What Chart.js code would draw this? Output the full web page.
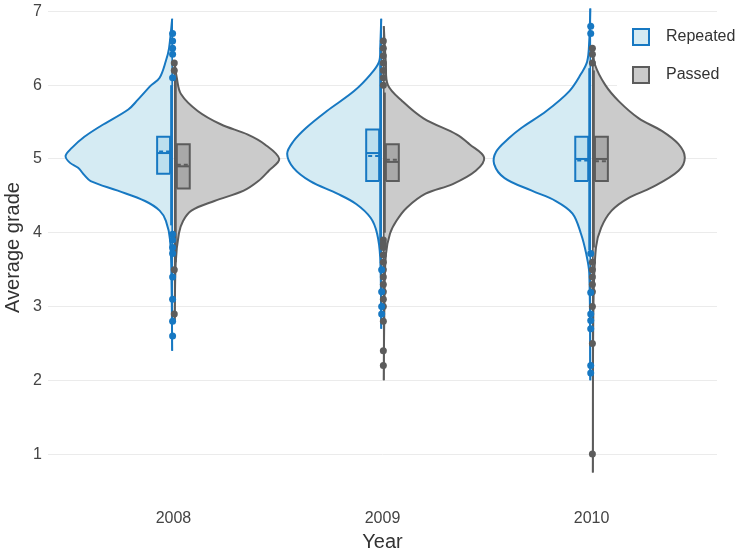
<!DOCTYPE html>
<html>
<head>
<meta charset="utf-8">
<script src="https://cdn.jsdelivr.net/npm/chart.js@4.4.0/dist/chart.umd.min.js"></script>
<style>
  html, body { margin: 0; padding: 0; background: #fff; }
</style>
</head>
<body>
<canvas id="graficoViolino" width="740" height="554"></canvas>
<script>
const years = ['2008', '2009', '2010'];
const yTicks = [1, 2, 3, 4, 5, 6, 7];
const legendLabels = ['Repeated', 'Passed'];

// meia-largura do violino por nota: [nota, largura em unidades de categoria]
const repeatedDensity2008 = [[6.9, 0], [6.5, 0.015], [6.33, 0.03], [6.1, 0.06], [6.0, 0.1], [5.8, 0.165], [5.67, 0.21], [5.45, 0.34], [5.3, 0.42], [5.15, 0.48], [5.04, 0.51], [4.95, 0.49], [4.88, 0.45], [4.78, 0.42], [4.7, 0.39], [4.57, 0.26], [4.43, 0.13], [4.3, 0.06], [4.16, 0.03], [3.9, 0.01], [3.3, 0.003], [2.4, 0]];
const repeatedDensity2009 = [[6.9, 0], [6.5, 0.005], [6.32, 0.01], [6.15, 0.05], [5.92, 0.13], [5.65, 0.26], [5.42, 0.36], [5.24, 0.42], [5.07, 0.45], [4.88, 0.42], [4.7, 0.34], [4.53, 0.21], [4.39, 0.12], [4.2, 0.05], [3.99, 0.02], [3.66, 0.005], [2.7, 0]];
const repeatedDensity2010 = [[7.04, 0], [6.6, 0.005], [6.32, 0.015], [6.15, 0.045], [5.92, 0.1], [5.65, 0.21], [5.42, 0.33], [5.28, 0.39], [5.1, 0.45], [4.93, 0.46], [4.74, 0.41], [4.57, 0.28], [4.43, 0.165], [4.26, 0.085], [3.99, 0.045], [3.72, 0.02], [3.45, 0.005], [2.0, 0]];
const passedDensity2008 = [[6.3, 0], [6.1, 0.01], [5.88, 0.03], [5.65, 0.11], [5.47, 0.22], [5.33, 0.35], [5.2, 0.43], [5.0, 0.5], [4.84, 0.45], [4.7, 0.4], [4.57, 0.33], [4.43, 0.19], [4.3, 0.08], [4.16, 0.04], [3.99, 0.02], [3.6, 0.005], [2.8, 0]];
const passedDensity2009 = [[6.8, 0], [6.3, 0.01], [6.0, 0.02], [5.78, 0.09], [5.55, 0.19], [5.33, 0.35], [5.2, 0.41], [5.02, 0.48], [4.84, 0.44], [4.66, 0.33], [4.53, 0.2], [4.34, 0.11], [4.16, 0.06], [3.99, 0.03], [3.7, 0.01], [3.0, 0.003], [2.0, 0]];
const passedDensity2010 = [[6.5, 0], [6.28, 0.01], [6.0, 0.06], [5.78, 0.125], [5.55, 0.22], [5.38, 0.33], [5.2, 0.41], [5.02, 0.44], [4.84, 0.41], [4.61, 0.28], [4.47, 0.17], [4.3, 0.09], [4.07, 0.04], [3.8, 0.015], [3.0, 0.003], [0.75, 0]];

// estatísticas das caixas
const repeatedQ1 = [4.8, 4.7, 4.7];
const repeatedMedian = [5.08, 5.08, 5.0];
const repeatedQ3 = [5.3, 5.4, 5.3];
const repeatedMean = [5.1, 5.04, 4.98];
const repeatedLow = [4.1, 3.7, 3.76];
const repeatedHigh = [6.0, 6.3, 6.23];
const passedQ1 = [4.6, 4.7, 4.7];
const passedMedian = [4.9, 4.96, 5.0];
const passedQ3 = [5.2, 5.2, 5.3];
const passedMean = [4.92, 4.99, 4.97];
const passedLow = [3.6, 4.0, 3.8];
const passedHigh = [6.1, 5.9, 6.2];

// pontos fora dos bigodes
const repeatedOutliers = [
    [6.7, 6.6, 6.5, 6.42, 6.1, 3.98, 3.9, 3.8, 3.72, 3.4, 3.1, 2.8, 2.6],
    [3.5, 3.2, 3.0, 2.9],
    [6.8, 6.7, 3.72, 3.19, 2.9, 2.81, 2.7, 2.2, 2.1]
];
const passedOutliers = [
    [6.3, 6.2, 3.5, 2.9],
    [6.6, 6.5, 6.4, 6.3, 6.2, 6.1, 6.0, 3.9, 3.85, 3.8, 3.7, 3.6, 3.5, 3.4, 3.3, 3.2, 3.1, 3.0, 2.8, 2.4, 2.2],
    [6.5, 6.42, 6.3, 3.6, 3.5, 3.4, 3.3, 3.2, 3.0, 2.5, 1.0]
];

const BLUE = '#1778c2', BLUE_FILL = '#d5ebf3', BLUE_BOX = '#bcdfee';
const GRAY = '#5c5c5c', GRAY_FILL = '#cbcbcb', GRAY_BOX = '#a9a9a9';

function violinHalf(idx, side, profile, line, fill) {
    const c = idx + side * 0.006;
    return [{
        data: profile.map(p => ({ x: c + side * p[1], y: p[0] })),
        showLine: true, tension: 0.35, borderColor: line, backgroundColor: fill,
        borderWidth: 2, pointRadius: 0, fill: 'shape', order: 5
    }, {
        data: [{ x: c, y: profile[0][0] }, { x: c, y: profile[profile.length - 1][0] }],
        showLine: true, tension: 0, borderColor: line, borderWidth: 1.6, pointRadius: 0, order: 4
    }];
}

function boxHalf(idx, side, q1, med, q3, mean, lo, hi, line, fill) {
    const a = idx + side * 0.016, b = idx + side * 0.078, w = idx + side * 0.011;
    return [{
        data: [{ x: w, y: lo }, { x: w, y: hi }],
        showLine: true, tension: 0, borderColor: line, borderWidth: 2, pointRadius: 0, order: 3
    }, {
        data: [{ x: a, y: q1 }, { x: b, y: q1 }, { x: b, y: q3 }, { x: a, y: q3 }, { x: a, y: q1 }],
        showLine: true, tension: 0, borderColor: line, backgroundColor: fill,
        borderWidth: 2, pointRadius: 0, fill: 'shape', order: 2
    }, {
        data: [{ x: a, y: med }, { x: b, y: med }],
        showLine: true, tension: 0, borderColor: line, borderWidth: 2, pointRadius: 0, order: 1
    }, {
        data: [{ x: a, y: mean }, { x: b, y: mean }],
        showLine: true, tension: 0, borderColor: line, borderWidth: 2, borderDash: [4, 3], pointRadius: 0, order: 1
    }];
}

function outlierPoints(idx, side, values, color) {
    return {
        data: values.map(v => ({ x: idx + side * 0.004, y: v })),
        showLine: false, pointRadius: 3.5, pointBorderWidth: 0,
        pointBackgroundColor: color, order: 0
    };
}

const repeatedDensity = [repeatedDensity2008, repeatedDensity2009, repeatedDensity2010];
const passedDensity = [passedDensity2008, passedDensity2009, passedDensity2010];

let datasets = [];
years.forEach((y, i) => {
    datasets = datasets.concat(violinHalf(i, -1, repeatedDensity[i], BLUE, BLUE_FILL));
    datasets = datasets.concat(violinHalf(i, 1, passedDensity[i], GRAY, GRAY_FILL));
    datasets = datasets.concat(boxHalf(i, -1, repeatedQ1[i], repeatedMedian[i], repeatedQ3[i], repeatedMean[i], repeatedLow[i], repeatedHigh[i], BLUE, BLUE_BOX));
    datasets = datasets.concat(boxHalf(i, 1, passedQ1[i], passedMedian[i], passedQ3[i], passedMean[i], passedLow[i], passedHigh[i], GRAY, GRAY_BOX));
    datasets.push(outlierPoints(i, -1, repeatedOutliers[i], BLUE));
    datasets.push(outlierPoints(i, 1, passedOutliers[i], GRAY));
});

// legenda desenhada à mão no canto superior direito
const legendaPlugin = {
    id: 'legenda',
    afterDatasetsDraw(chart) {
        const ctx = chart.ctx;
        const lines = [BLUE, GRAY], fills = [BLUE_FILL, GRAY_FILL];
        ctx.save();
        ctx.fillStyle = '#fff';
        ctx.fillRect(617, 14, 123, 82);
        legendLabels.forEach((lbl, i) => {
            const y = 37 + i * 38;
            ctx.fillStyle = fills[i];
            ctx.fillRect(633, y - 8, 16, 16);
            ctx.strokeStyle = lines[i];
            ctx.lineWidth = 2;
            ctx.strokeRect(633, y - 8, 16, 16);
            ctx.fillStyle = '#333';
            ctx.font = '16px "Liberation Sans", Arial, sans-serif';
            ctx.textBaseline = 'middle';
            ctx.fillText(lbl, 666, y);
        });
        ctx.restore();
    }
};

new Chart(document.getElementById('graficoViolino'), {
    type: 'scatter',
    data: { datasets: datasets },
    options: {
        responsive: false,
        animation: false,
        events: [],
        layout: { padding: { top: 3, right: 23, left: 0, bottom: 0 } },
        plugins: { legend: { display: false }, tooltip: { enabled: false } },
        scales: {
            x: {
                type: 'linear', min: -0.6, max: 2.6,
                afterBuildTicks: s => { s.ticks = years.map((y, i) => ({ value: i })); },
                afterFit: s => { s.height = 63; s.paddingLeft = 0; s.paddingRight = 0; },
                grid: { display: false },
                border: { display: false },
                ticks: {
                    callback: v => years[v], padding: 10, maxRotation: 0,
                    color: '#444', font: { family: '"Liberation Sans", Arial, sans-serif', size: 16 }
                },
                title: {
                    display: true, text: 'Year', color: '#333', padding: { top: 0, bottom: 0 },
                    font: { family: '"Liberation Sans", Arial, sans-serif', size: 20 }
                }
            },
            y: {
                min: 0.5, max: 7.1,
                afterBuildTicks: s => { s.ticks = yTicks.map(v => ({ value: v })); },
                afterFit: s => { s.width = 48; s.paddingTop = 0; s.paddingBottom = 0; },
                grid: { color: '#ebebeb', lineWidth: 1, drawTicks: false },
                border: { display: false },
                ticks: {
                    padding: 6, color: '#444',
                    font: { family: '"Liberation Sans", Arial, sans-serif', size: 16 }
                },
                title: {
                    display: true, text: 'Average grade', color: '#333', padding: { top: 1, bottom: 0 },
                    font: { family: '"Liberation Sans", Arial, sans-serif', size: 20 }
                }
            }
        }
    },
    plugins: [legendaPlugin]
});
</script>
</body>
</html>
